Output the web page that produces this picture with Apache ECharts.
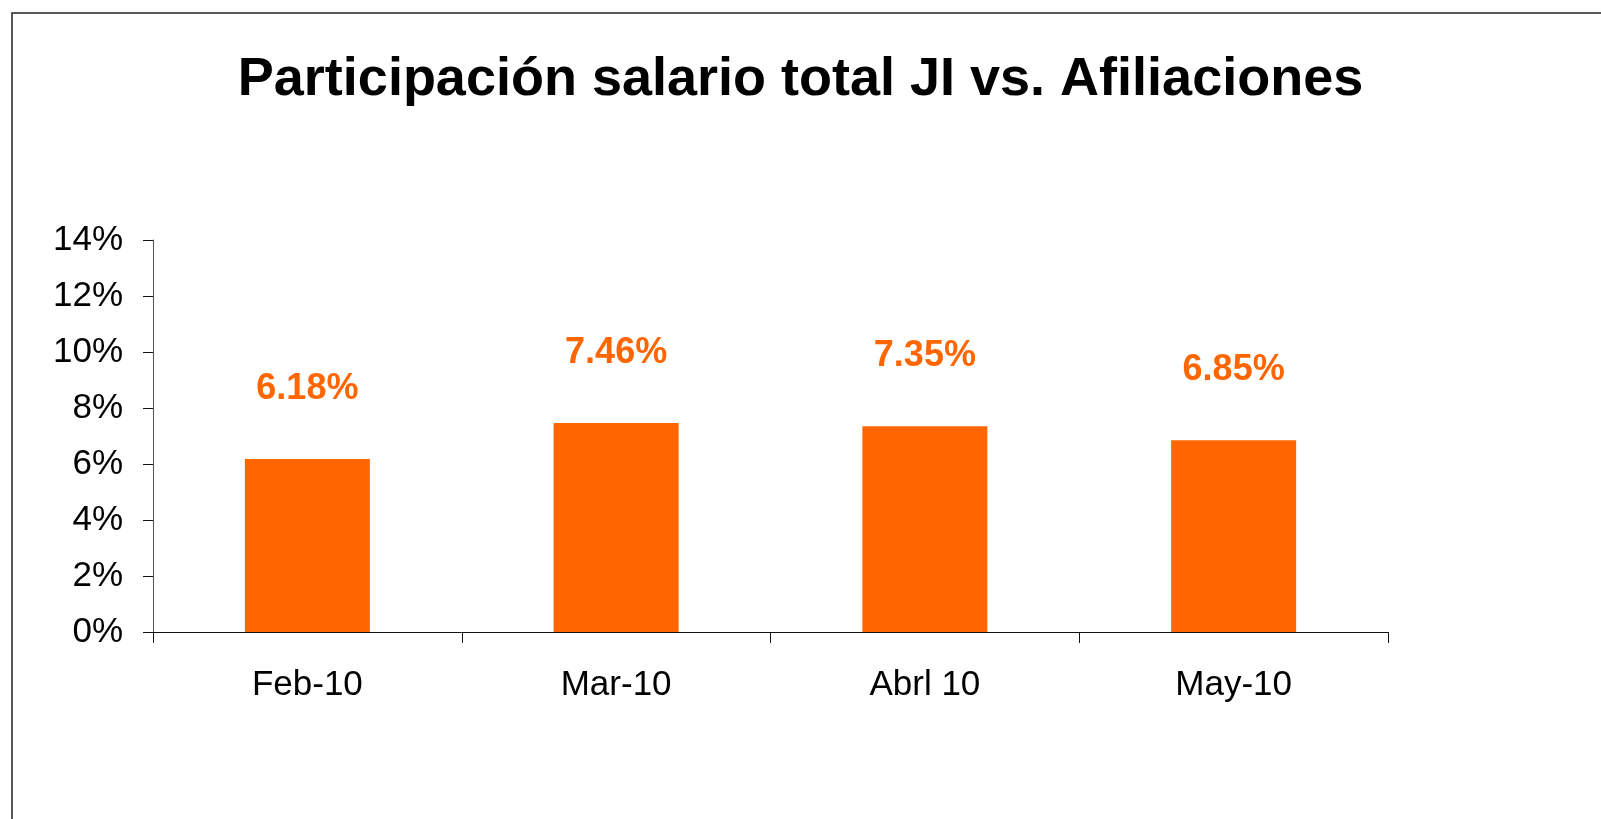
<!DOCTYPE html>
<html>
<head>
<meta charset="utf-8">
<script src="https://cdn.jsdelivr.net/npm/echarts@6/dist/echarts.min.js"></script>
<style>
html,body{margin:0;padding:0;background:#fff;}
#chart{width:1601px;height:819px;}
</style>
</head>
<body>
<div id="chart"></div>
<script>
const titleText = 'Participación salario total JI vs. Afiliaciones';
const categories = ['Feb-10', 'Mar-10', 'Abrl 10', 'May-10'];
const values = [6.18, 7.46, 7.35, 6.85];
const yTicks = [0, 2, 4, 6, 8, 10, 12, 14];

const chart = echarts.init(document.getElementById('chart'), null, {renderer: 'canvas'});
const FONT = '"Liberation Sans", Arial, sans-serif';
chart.setOption({
  animation: false,
  backgroundColor: '#ffffff',
  title: {
    text: titleText,
    left: 'center',
    top: 48,
    textStyle: {fontFamily: FONT, fontWeight: 'bold', fontSize: 54, color: '#000'}
  },
  graphic: [{
    type: 'rect',
    shape: {x: 12, y: 13, width: 1700, height: 1000},
    style: {fill: 'none', stroke: '#222', lineWidth: 1.5},
    silent: true
  }],
  grid: {left: 153, right: 213, top: 240, bottom: 187, containLabel: false},
  xAxis: {
    type: 'category',
    data: categories,
    axisLine: {lineStyle: {color: '#111', width: 1}},
    axisTick: {show: true, length: 11, alignWithLabel: false, lineStyle: {color: '#111'}},
    axisLabel: {fontFamily: FONT, fontSize: 35, color: '#000', margin: 36}
  },
  yAxis: {
    type: 'value',
    min: yTicks[0],
    max: yTicks[yTicks.length - 1],
    interval: 2,
    axisLine: {show: true, lineStyle: {color: '#555', width: 1}},
    axisTick: {show: true, length: 10, lineStyle: {color: '#111'}},
    splitLine: {show: false},
    axisLabel: {fontFamily: FONT, fontSize: 35, color: '#000', margin: 30, formatter: v => v + '%'}
  },
  series: [{
    type: 'bar',
    data: values,
    barWidth: 125,
    itemStyle: {color: '#FF6600'},
    label: {
      show: true,
      position: 'top',
      distance: 52,
      fontFamily: FONT,
      fontWeight: 'bold',
      fontSize: 36,
      color: '#FF6600',
      formatter: p => p.value.toFixed(2) + '%'
    }
  }]
});
</script>
</body>
</html>
